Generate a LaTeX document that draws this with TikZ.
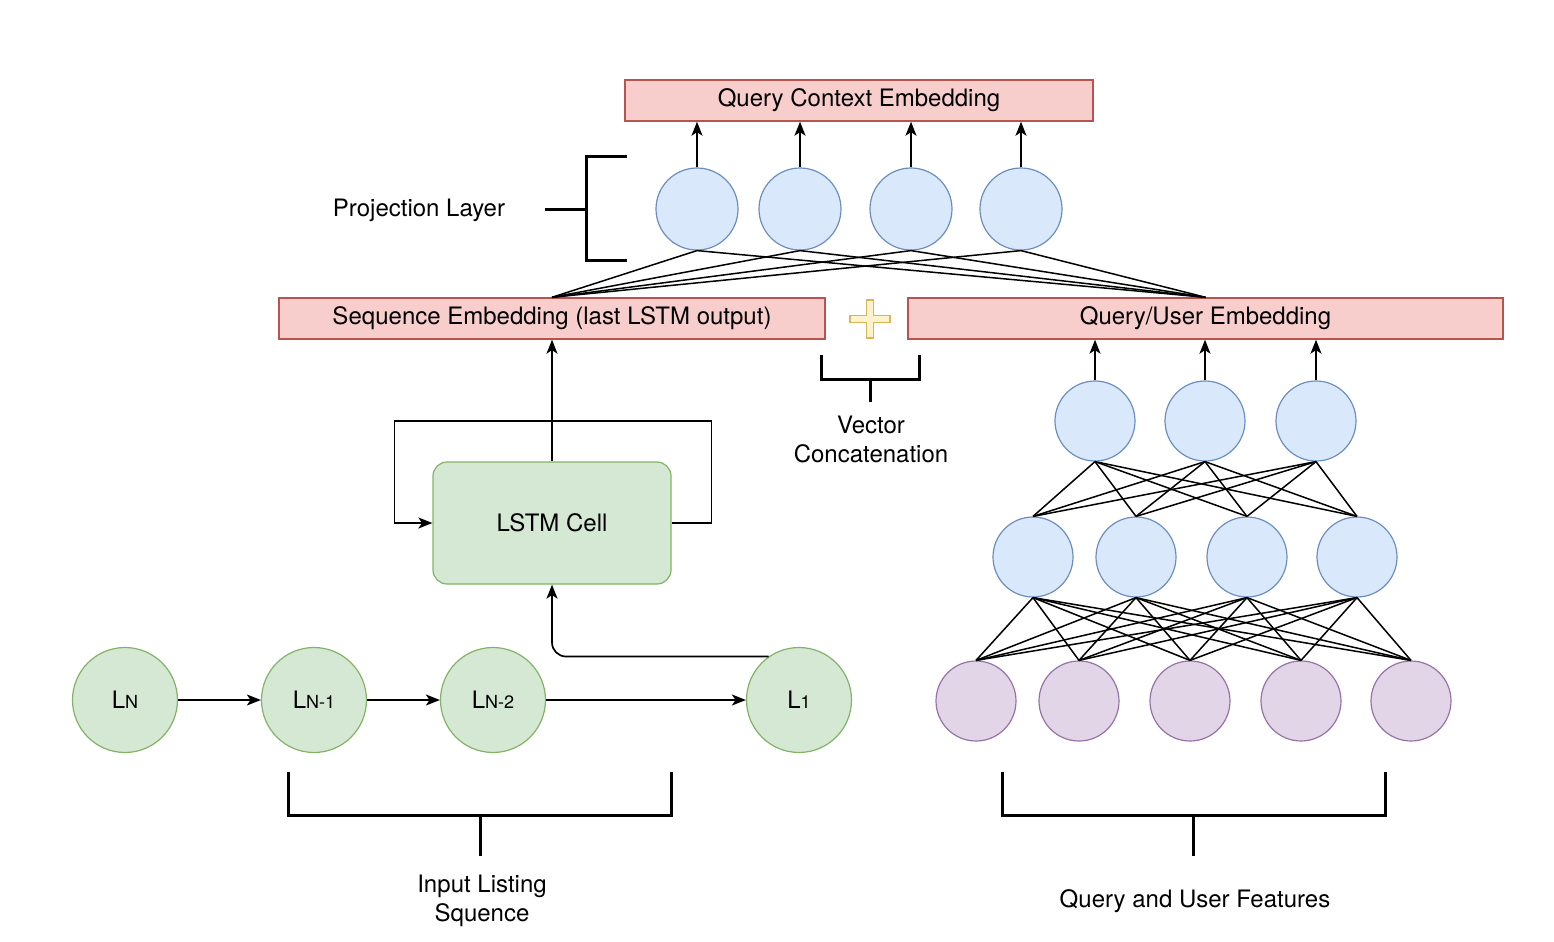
\documentclass[tikz,border=0pt]{standalone}
\usepackage{fontspec}
\setmainfont{TeX Gyre Heros}
\usetikzlibrary{arrows.meta,calc}
\definecolor{bluef}{HTML}{DAE8FC}
\definecolor{blued}{HTML}{6C8EBF}
\definecolor{purpf}{HTML}{E1D5E7}
\definecolor{purpd}{HTML}{9673A6}
\definecolor{greenf}{HTML}{D5E8D4}
\definecolor{greend}{HTML}{82B366}
\definecolor{redf}{HTML}{F8CECC}
\definecolor{redd}{HTML}{B85450}
\definecolor{yelf}{HTML}{FFF2CC}
\definecolor{yeld}{HTML}{D6B656}
\begin{document}
\begin{tikzpicture}[x=0.5pt,y=-0.5pt,
  txt/.style={font=\fontsize{12}{14.5}\selectfont, text=black},
  embbox/.style={txt, draw=redd, fill=redf, line width=0.7pt, minimum height=20.5pt, inner sep=0pt},
  bneuron/.style={circle, draw=blued, fill=bluef, line width=0.6pt, minimum size=40pt, inner sep=0pt},
  pneuron/.style={circle, draw=purpd, fill=purpf, line width=0.6pt, minimum size=40pt, inner sep=0pt},
  lnode/.style={txt, circle, draw=greend, fill=greenf, line width=0.6pt, minimum size=52.5pt, inner sep=0pt},
  arr/.style={-{Stealth[length=7pt,width=5.5pt,inset=1.8pt]}, line width=0.85pt},
  link/.style={line width=0.75pt},
  brk/.style={line width=1.5pt},
  lbl/.style={txt, align=center}
]
\useasboundingbox (0,0) rectangle (1554,942);

% boxes
\node[embbox, minimum width=234pt] (qce) at (859,100.5) {\raisebox{-1pt}{Query Context Embedding}};
\node[embbox, minimum width=273pt] (seq) at (552,318.5) {\raisebox{-1pt}{Sequence Embedding (last LSTM output)}};
\node[embbox, minimum width=297.5pt] (qu) at (1205.5,318.5) {\raisebox{-1pt}{Query/User Embedding}};

% projection layer
\foreach \i/\x in {1/697,2/800,3/911,4/1021}{
  \node[bneuron, minimum size=41pt] (p\i) at (\x,209) {};
  \draw[arr] (p\i.north) -- (p\i.north |- qce.south);
  \draw[link] (p\i.south) -- (seq.north);
  \draw[link] (p\i.south) -- (qu.north);
}
\node[lbl] (projlbl) at (419,210) {Projection Layer};
\draw[brk] (627,156) -- (586,156) -- (586,260) -- (627,260);
\draw[brk] (545,209) -- (586,209);

% plus sign (vector concatenation)
\fill[yelf, draw=yeld, line width=0.6pt]
  (866.5,300) -- (873.5,300) -- (873.5,315.5) -- (890,315.5) -- (890,322.5) -- (873.5,322.5)
  -- (873.5,338) -- (866.5,338) -- (866.5,322.5) -- (850,322.5) -- (850,315.5) -- (866.5,315.5) -- cycle;
\draw[brk] (821,355) -- (821,379) -- (919,379) -- (919,355);
\draw[brk] (870,379) -- (870,402);
\node[lbl] (vclbl) at (871,439) {Vector\\Concatenation};

% feature network
\foreach \i/\x in {1/1095,2/1205,3/1316}{
  \node[bneuron] (t\i) at (\x,421) {};
  \draw[arr] (t\i.north) -- (t\i.north |- qu.south);
}
\foreach \i/\x in {1/1033,2/1136,3/1247,4/1357}{
  \node[bneuron] (m\i) at (\x,557) {};
}
\foreach \i/\x in {1/976,2/1079,3/1190,4/1301,5/1411}{
  \node[pneuron] (b\i) at (\x,701) {};
}
\foreach \a in {1,2,3}{\foreach \b in {1,2,3,4}{\draw[link] (t\a.south) -- (m\b.north);}}
\foreach \a in {1,2,3,4}{\foreach \b in {1,2,3,4,5}{\draw[link] (m\a.south) -- (b\b.north);}}
\draw[brk] (1002,772) -- (1002,815) -- (1385,815) -- (1385,772);
\draw[brk] (1193,815) -- (1193,856);
\node[lbl] (qulbl) at (1195,901) {Query and User Features};

% LSTM
\node[txt, draw=greend, fill=greenf, line width=0.6pt, rounded corners=7pt,
      minimum width=119pt, minimum height=61pt, inner sep=0pt] (lstm) at (552,523) {\raisebox{-1pt}{LSTM Cell}};
\draw[arr] (lstm.north) -- (seq.south);
\draw[arr] (lstm.east) -- ++(40,0) -- ++(0,-102) -- ++(-317,0) -- ++(0,102) -- (lstm.west);

% input sequence
\newcommand{\smsub}[1]{{\fontsize{9}{9}\selectfont #1}}
\node[lnode] (ln) at (125,700) {L\smsub{N}};
\node[lnode] (ln1) at (314,700) {L\smsub{N-1}};
\node[lnode] (ln2) at (493,700) {L\smsub{N-2}};
\node[lnode] (l1) at (799,700) {L\smsub{1}};
\draw[arr] (ln) -- (ln1);
\draw[arr] (ln1) -- (ln2);
\draw[arr] (ln2) -- (l1);
\draw[arr, rounded corners=7pt] (l1.125) -| (lstm.south);
\draw[brk] (288,772) -- (288,815) -- (671,815) -- (671,772);
\draw[brk] (480,815) -- (480,856);
\node[lbl] (inlbl) at (482,901) {Input Listing\\Squence};
\end{tikzpicture}
\end{document}
